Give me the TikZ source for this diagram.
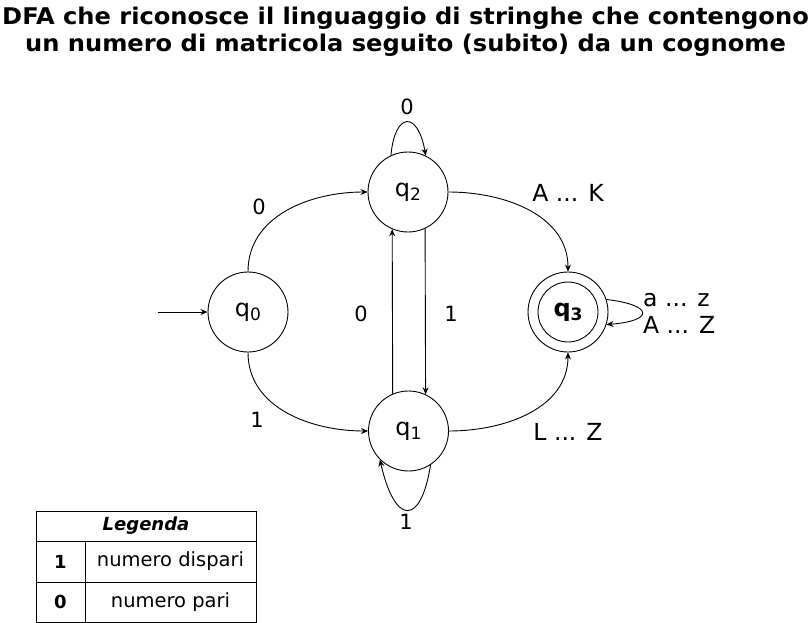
\documentclass[tikz,border=0pt]{standalone}
\usepackage{fontspec}
\setmainfont{DejaVu Sans}
\newfontfamily\titlefont[FakeStretch=1.05]{DejaVu Sans}
\usetikzlibrary{arrows.meta}
\newcommand{\qsub}[1]{\raisebox{-4.5pt}{\fontsize{17}{17}\selectfont #1}}
\begin{document}
\begin{tikzpicture}[x=1pt,y=-1pt,
  st/.style={circle, draw, line width=0.9pt, minimum size=80pt, inner sep=0pt, font=\fontsize{24}{28}\selectfont},
  arr/.style={-{Stealth[length=7pt,width=6pt]}, line width=0.9pt},
  lbl/.style={font=\fontsize{21}{24}\selectfont, inner sep=0pt},
  wlbl/.style={font=\fontsize{23.5}{27}\selectfont, inner sep=0pt},
  ttl/.style={font=\titlefont\bfseries\fontsize{23}{27}\selectfont, inner sep=0pt},
  cell/.style={draw, line width=0.9pt, inner sep=0pt, font=\fontsize{19.5}{22}\selectfont}]
\useasboundingbox (0,0) rectangle (811,623);

\node[ttl] (t1) at (405.5,18) {DFA che riconosce il linguaggio di stringhe che contengono};
\node[ttl] (t2) at (405.5,45) {un numero di matricola seguito (subito) da un cognome};

\node[st] (q0) at (248,312) {q\qsub{0}};
\node[st] (q2) at (408,192) {q\qsub{2}};
\node[st] (q1) at (408.5,431) {q\qsub{1}};
\node[st] (q3) at (568,312) {};
\node[st, minimum size=60pt] (q3i) at (q3) {\textbf{q\qsub{\textbf{3}}}};

\coordinate (init) at (158,312);
\draw[arr] (init) -- (q0.west);

\draw[arr] (q0.north) to[out=90,in=180] (q2.west);
\draw[arr] (q0.south) to[out=-90,in=180] (q1.west);
\draw[arr] (q2.east) to[out=0,in=90] (q3.north);
\draw[arr] (q1.east) to[out=0,in=-90] (q3.south);
\draw[arr] (q1.113.6) -- (q2.-113.6);
\draw[arr] (q2.-65) -- (q1.65);

\draw[arr] (q2.115) .. controls (395,111) and (418,111) .. (q2.64);
\draw[arr] (q1.-57) .. controls (421,526) and (395,526) .. (q1.-135);
\draw[arr] (q3.18) .. controls (654,305) and (654,321) .. (q3.-18);

\node[lbl] (l1) at (259,207) {0};
\node[lbl] (l2) at (257,420) {1};
\node[wlbl] (l3) at (568,193) {A ... K};
\node[wlbl] (l4) at (568,432) {L ... Z};
\node[lbl] (l5) at (361,314) {0};
\node[lbl] (l6) at (451,314) {1};
\node[lbl] (l7) at (407,107) {0};
\node[lbl] (l8) at (406,522) {1};
\node[wlbl, align=left, anchor=west] (l9) at (643,313) {a ... z\\A ... Z};

\node[cell, minimum width=220pt, minimum height=30pt, font=\fontsize{18}{22}\selectfont] (lh) at (146,526) {\textbf{\textit{Legenda}}};
\node[cell, minimum width=49pt, minimum height=41pt, font=\fontsize{18}{22}\selectfont] (c11) at (60.5,561.5) {\textbf{1}};
\node[cell, minimum width=171pt, minimum height=41pt] (c12) at (170.5,561.5) {numero dispari};
\node[cell, minimum width=49pt, minimum height=40pt, font=\fontsize{18}{22}\selectfont] (c21) at (60.5,602) {\textbf{0}};
\node[cell, minimum width=171pt, minimum height=40pt] (c22) at (170.5,602) {numero pari};
\end{tikzpicture}
\end{document}
